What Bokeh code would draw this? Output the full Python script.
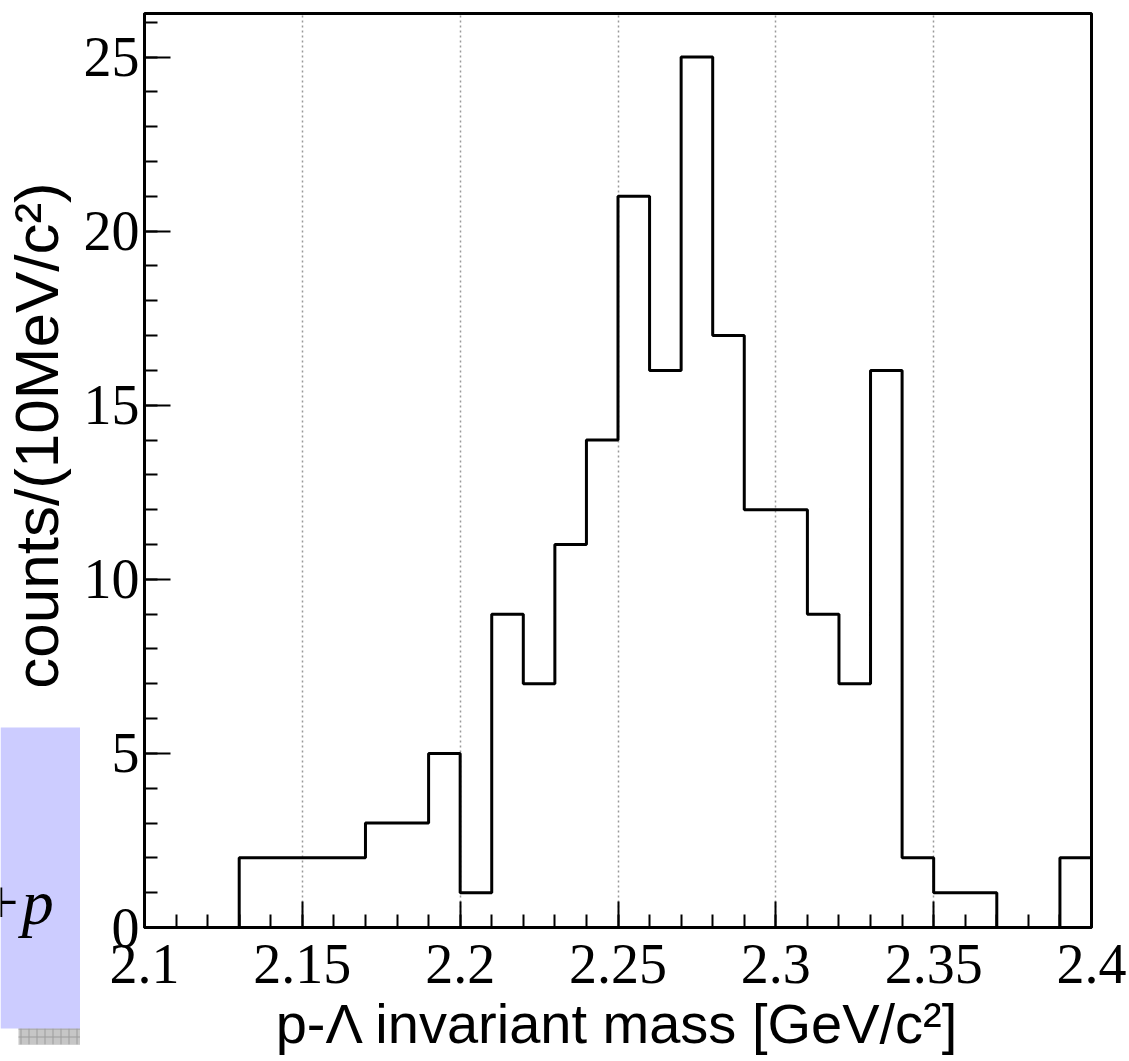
import math
from bokeh.plotting import figure
from bokeh.layouts import row
from bokeh.models import FixedTicker, SingleIntervalTicker, Range1d
from bokeh.core.properties import value
from bokeh.embed import file_html
from bokeh.resources import INLINE

# ---- data ----
bin_edges = [2.10, 2.11, 2.12, 2.13, 2.14, 2.15, 2.16, 2.17, 2.18, 2.19,
             2.20, 2.21, 2.22, 2.23, 2.24, 2.25, 2.26, 2.27, 2.28, 2.29,
             2.30, 2.31, 2.32, 2.33, 2.34, 2.35, 2.36, 2.37, 2.38, 2.39, 2.40]
counts = [0, 0, 0, 2, 2, 2, 2, 3, 3, 5,
          1, 9, 7, 11, 14, 21, 16, 25, 17, 12,
          12, 9, 7, 16, 2, 1, 1, 0, 0, 2]
x_ticks = [2.1, 2.15, 2.2, 2.25, 2.3, 2.35, 2.4]
x_tick_labels = ["2.1", "2.15", "2.2", "2.25", "2.3", "2.35", "2.4"]
x_title = "p-\u039b invariant mass [GeV/c\u00b2]"
y_title = "counts/(10MeV/c\u00b2)"
box_text = "+p"

TOTAL_W, H = 1129, 1061
LW = 80                      # left strip: y title + slide box
W = TOTAL_W - LW

# ---- main histogram figure ----
p = figure(width=W, height=H,
           x_range=Range1d(2.1, 2.4), y_range=Range1d(0, 26.25),
           output_backend="svg", toolbar_location=None,
           min_border_left=63, min_border_right=38,
           min_border_top=13, min_border_bottom=134)
p.background_fill_color = "white"
p.border_fill_color = "white"
p.outline_line_color = "black"
p.outline_line_width = 3

xs = bin_edges
ys = counts + [counts[-1]]
p.step(x=xs, y=ys, mode="after", line_color="black", line_width=3)

for ax in (p.xaxis[0], p.yaxis[0]):
    ax.axis_line_color = "black"
    ax.axis_line_width = 3
    ax.major_tick_line_color = "black"
    ax.major_tick_line_width = 2
    ax.minor_tick_line_color = "black"
    ax.minor_tick_line_width = 2
    ax.major_tick_in = 26
    ax.major_tick_out = 0
    ax.minor_tick_in = 13
    ax.minor_tick_out = 0
    ax.major_label_text_font = "Liberation Serif"
    ax.major_label_text_font_size = "56px"
    ax.major_label_text_color = "black"
    ax.axis_label_text_font = "Liberation Sans"
    ax.axis_label_text_font_style = "normal"
    ax.axis_label_text_color = "black"

p.xaxis.ticker = FixedTicker(ticks=x_ticks, minor_ticks=bin_edges)
p.xaxis.major_label_overrides = dict(zip(x_ticks, x_tick_labels))
p.xaxis.major_label_standoff = 17
p.xaxis.axis_label = x_title
p.xaxis.axis_label_text_font_size = "56px"
p.xaxis.axis_label_standoff = 6

p.yaxis.ticker = SingleIntervalTicker(interval=5, num_minor_ticks=5)
p.yaxis.major_label_standoff = 5

p.ygrid.visible = False
p.xgrid.ticker = FixedTicker(ticks=x_ticks)
p.xgrid.grid_line_color = "#999999"
p.xgrid.grid_line_width = 1.5
p.xgrid.grid_line_dash = "2 3"

# ---- left strip: y-axis title and the slide's blue box ----
pl = figure(width=LW, height=H, x_range=Range1d(0, LW), y_range=Range1d(0, H),
            output_backend="svg", toolbar_location=None,
            x_axis_type=None, y_axis_type=None,
            min_border=0, min_border_left=0, min_border_right=0,
            min_border_top=0, min_border_bottom=0)
pl.grid.visible = False
pl.outline_line_color = None
pl.background_fill_color = "white"
pl.border_fill_color = "white"

# keep each figure's frame independent (no cross-plot frame alignment)
for fig in (p, pl):
    if hasattr(fig, "frame_align"):
        fig.frame_align = False

# y title (rotated, reading upward)
pl.text(x=[36], y=[H - 435], text=[y_title], angle=math.pi / 2,
        text_font=value("Liberation Sans"), text_font_size="62px",
        text_color="black", text_align="center", text_baseline="alphabetic")

# box shadow (checkered grey) and box
pl.quad(left=18, right=LW, top=H - 744, bottom=H - 1044, fill_color="#c6c6c6",
        hatch_pattern="+", hatch_color="#9c9c9c", hatch_scale=8, hatch_weight=1,
        line_color=None)
pl.quad(left=0, right=80, top=H - 727, bottom=H - 1028,
        fill_color="#ccccff", line_color=None)
pl.text(x=[-22], y=[H - 902], text=[box_text], text_font=value("Liberation Serif"),
        text_font_style="italic", text_font_size="64px", text_color="black",
        text_baseline="alphabetic", text_align="left")

layout = row(pl, p, spacing=0)
open("out.html", "w").write(file_html(layout, INLINE))
